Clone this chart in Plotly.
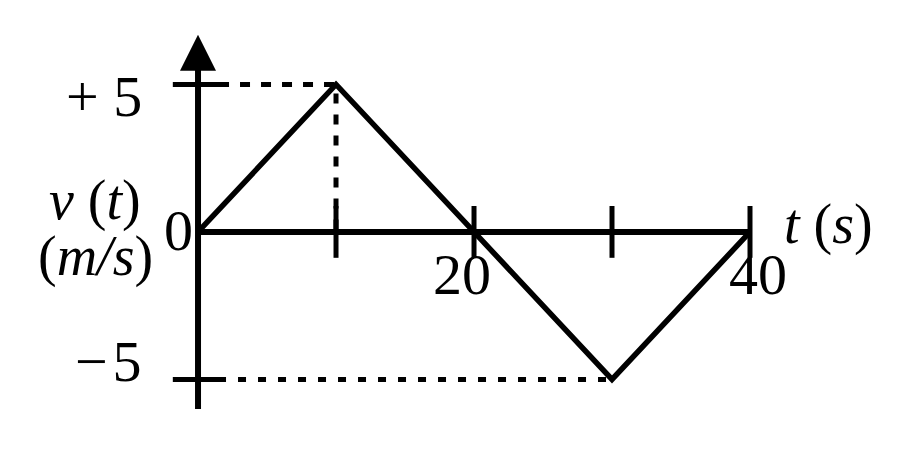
import plotly.graph_objects as go

# velocity vs time (triangle wave)
t = [0, 10, 20, 30, 40]
v = [0, 5, 0, -5, 0]

x_ticks = [10, 20, 30, 40]
x_tick_labels = {20: "20", 40: "40"}
y_ticks = [5, -5]
y_tick_labels = ["+ 5", "\u2212\u200a5"]

font = dict(family="Liberation Serif", size=58, color="black")
italic = dict(family="Liberation Serif", size=56, color="black")

fig = go.Figure()

# dashed guide lines to the peaks
fig.add_trace(go.Scatter(x=[0, t[1], t[1]], y=[v[1], v[1], 0], mode="lines",
                         line=dict(color="black", width=5, dash="10px,11px")))
fig.add_trace(go.Scatter(x=[0, t[3]], y=[v[3], v[3]], mode="lines",
                         line=dict(color="black", width=5, dash="8px,12px")))

# axes (y axis ends under the arrow head)
fig.add_trace(go.Scatter(x=[0, t[-1]], y=[0, 0], mode="lines",
                         line=dict(color="black", width=6)))
fig.add_trace(go.Scatter(x=[0, 0], y=[-6.0, 6.0], mode="lines",
                         line=dict(color="black", width=6)))
fig.add_trace(go.Scatter(x=[0], y=[6.68], mode="markers",
                         marker=dict(symbol="arrow-up", size=36, color="black",
                                     line=dict(width=0))))

# the curve itself
fig.add_trace(go.Scatter(x=t, y=v, mode="lines",
                         line=dict(color="black", width=5.5)))

# tick marks
fig.add_trace(go.Scatter(x=x_ticks, y=[0] * len(x_ticks), mode="markers",
                         marker=dict(symbol="line-ns", size=37,
                                     line=dict(color="black", width=5))))
fig.add_trace(go.Scatter(x=[0] * len(y_ticks), y=y_ticks, mode="markers",
                         marker=dict(symbol="line-ew", size=36,
                                     line=dict(color="black", width=5))))

# tick labels (right edge lined up at the same spot)
for yv, lab in zip(y_ticks, y_tick_labels):
    fig.add_annotation(x=-3.9, y=yv * 0.9 + 0.1, text=lab, xanchor="right",
                       showarrow=False, font=font)
fig.add_annotation(x=-1.4, y=0.05, text="0", showarrow=False, font=font)
fig.add_annotation(x=19.1, y=-1.45, text=x_tick_labels[20], showarrow=False, font=font)
fig.add_annotation(x=40.6, y=-1.45, text=x_tick_labels[40], showarrow=False, font=font)

# axis titles
fig.add_annotation(x=-7.45, y=1.05, text="<i>v</i> (<i>t</i>)", showarrow=False, font=italic)
fig.add_annotation(x=-7.4, y=-0.85, text="(<i>m/s</i>)", showarrow=False, font=italic)
fig.add_annotation(x=45.7, y=0.25, text="<i>t</i> (<i>s</i>)", showarrow=False, font=italic)

# ranges shifted to offset the 8px page margin
fig.update_layout(width=900, height=449, margin=dict(l=0, r=0, t=0, b=0),
                  plot_bgcolor="white", paper_bgcolor="white", showlegend=False,
                  xaxis=dict(range=[-13.77, 51.45], visible=False),
                  yaxis=dict(range=[-7.63, 7.59], visible=False))

fig.write_html("out.html")
